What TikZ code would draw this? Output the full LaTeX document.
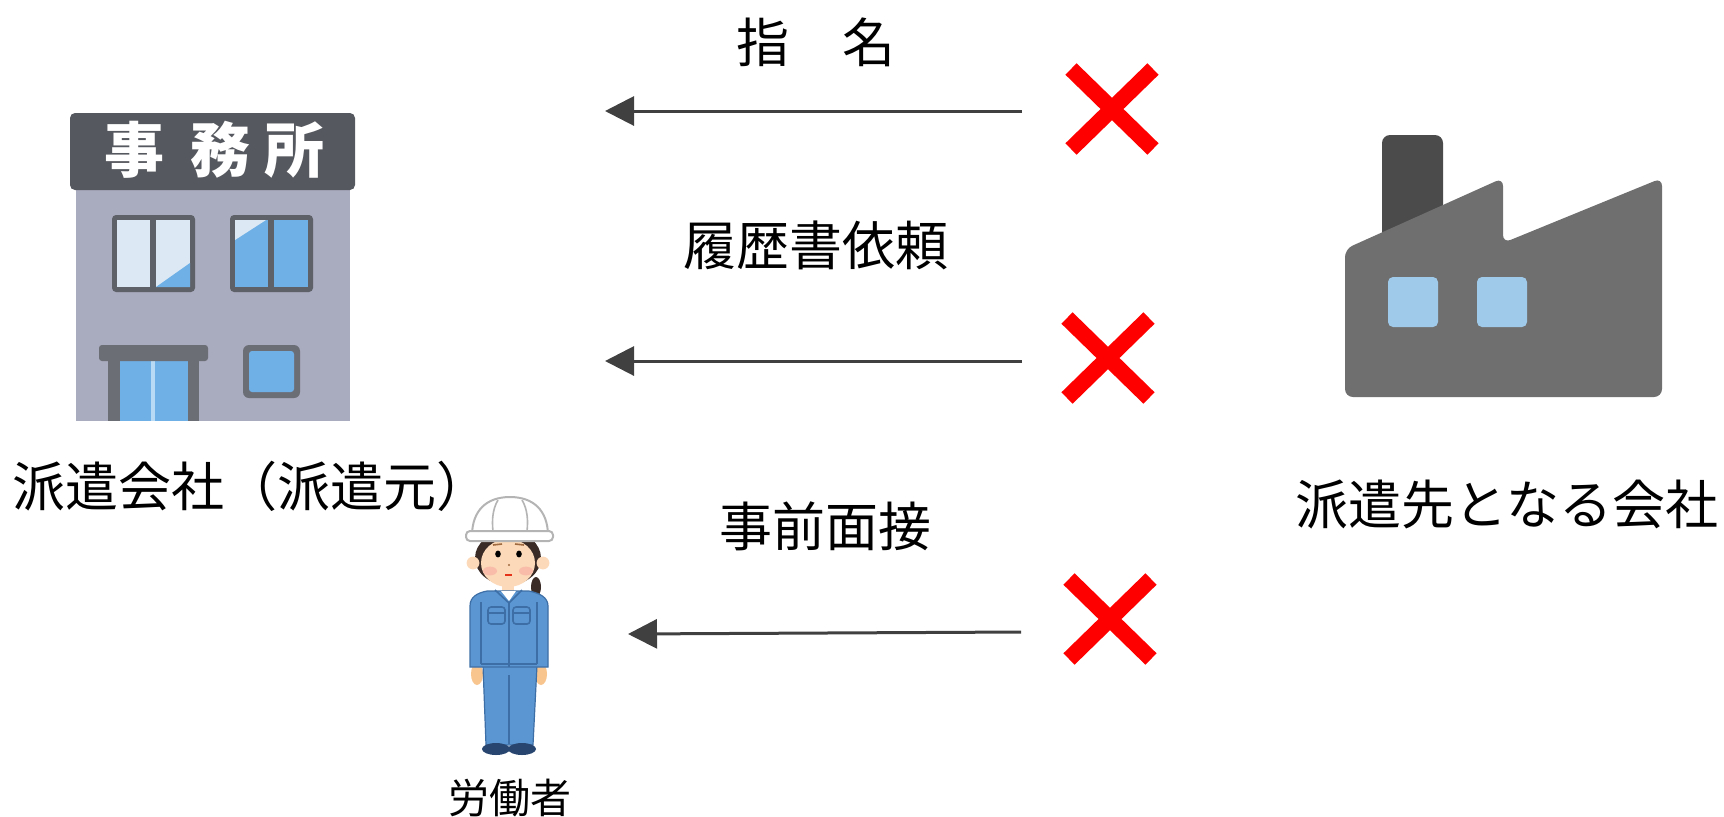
\documentclass[tikz,border=0pt]{standalone}
\usepackage{fontspec}
\setmainfont{Noto Sans CJK JP}
\usetikzlibrary{arrows.meta}

% palette
\definecolor{arrowgray}{HTML}{404040}
\definecolor{crossred}{HTML}{FF0000}
\definecolor{signgray}{HTML}{55585E}
\definecolor{wallgray}{HTML}{A9ABBE}
\definecolor{framegray}{HTML}{5F6168}
\definecolor{doorgray}{HTML}{6C6E76}
\definecolor{glassblue}{HTML}{6FB0E6}
\definecolor{glasslight}{HTML}{DCE9F5}
\definecolor{glassline}{HTML}{B9DAF5}
\definecolor{plantgray}{HTML}{6F6F6F}
\definecolor{chimneygray}{HTML}{4B4B4B}
\definecolor{plantglass}{HTML}{A0CAEA}
\definecolor{suitblue}{HTML}{5B96D2}
\definecolor{suitline}{HTML}{3D6FA6}
\definecolor{shoenavy}{HTML}{28456F}
\definecolor{skin}{HTML}{FCD9B8}
\definecolor{hand}{HTML}{F8C58E}
\definecolor{hair}{HTML}{3B2B26}
\definecolor{cheek}{HTML}{F7B0A4}
\definecolor{helmetline}{HTML}{B4B4B4}
\definecolor{brow}{HTML}{A06A40}

\begin{document}
\begin{tikzpicture}[x=0.5pt,y=-0.5pt,
  caption/.style={inner sep=0pt, text=black, font=\fontsize{26.5}{30}\selectfont},
  smallcaption/.style={inner sep=0pt, text=black, font=\fontsize{20.5}{24}\selectfont},
  signchar/.style={inner sep=0pt, text=white, font=\fontsize{30}{32}\selectfont\bfseries},
  flow/.style={draw=arrowgray, line width=1.5pt, -{Triangle[length=14.5pt,width=14.5pt]}},
  nogo/.style={draw=crossred, line width=8pt, line cap=butt},
]
\useasboundingbox (0,0) rectangle (1724,816);

% ---------- office building (dispatching company) ----------
\fill[wallgray] (76,188) rectangle (350,421);
\fill[signgray, rounded corners=2.5pt] (70,113) rectangle (355,190);
\node[signchar] (sign1) at (134,150) {事};
\node[signchar] (sign2) at (220,150) {務};
\node[signchar] (sign3) at (294,150) {所};
% upper windows
\fill[framegray, rounded corners=2pt] (112,215) rectangle (195,292);
\fill[glasslight] (117,220) rectangle (150,287);
\fill[glasslight] (156,220) rectangle (190,287);
\fill[glassblue] (156,287) -- (190,287) -- (190,263) -- cycle;
\fill[framegray, rounded corners=2pt] (230,215) rectangle (313,292);
\fill[glassblue] (235,220) rectangle (268,287);
\fill[glassblue] (274,220) rectangle (308,287);
\fill[glasslight] (235,220) -- (266,220) -- (235,240) -- cycle;
% entrance
\fill[doorgray] (108,358) rectangle (199,421);
\fill[glassblue] (120,361) rectangle (188,421);
\fill[glassline] (151,361) rectangle (155,421);
\fill[doorgray, rounded corners=1.5pt] (99,345) rectangle (208,361);
% small window
\fill[doorgray, rounded corners=3pt] (243,345) rectangle (300,398);
\fill[glassblue, rounded corners=1.5pt] (249,351) rectangle (294,392);

% ---------- factory (client company) ----------
\fill[chimneygray, rounded corners=4pt] (1382,135) rectangle (1443,260);
\fill[plantgray, rounded corners=4pt] (1345,397) -- (1345,249) -- (1503,178) -- (1503,243)
  -- (1662,178) -- (1662,397) -- cycle;
\fill[plantglass, rounded corners=2.5pt] (1388,277) rectangle (1438,327);
\fill[plantglass, rounded corners=2.5pt] (1477,277) rectangle (1527,327);

% ---------- worker ----------
% ponytail and hair
\fill[hair] (536,587) ellipse [x radius=2.5pt, y radius=5pt];
\fill[hair] (508,558) ellipse [x radius=16.5pt, y radius=13.5pt];
% ears
\fill[skin] (473,563) circle [radius=3.2pt];
\fill[skin] (543,563) circle [radius=3.2pt];
% neck and face
\fill[skin] (502,580) rectangle (514,594);
\fill[skin] (508,563) ellipse [x radius=13.5pt, y radius=12pt];
\fill[cheek, opacity=0.7] (490,571) ellipse [x radius=3.5pt, y radius=2.2pt];
\fill[cheek, opacity=0.7] (526,571) ellipse [x radius=3.5pt, y radius=2.2pt];
\fill[black] (498,554) ellipse [x radius=1.4pt, y radius=1.7pt];
\fill[black] (519,554) ellipse [x radius=1.4pt, y radius=1.7pt];
\draw[brow, line width=0.8pt] (493,545) -- (502,544);
\draw[brow, line width=0.8pt] (515,544) -- (524,545);
\fill[brow] (509,565) circle [radius=0.6pt];
\draw[red!60!brown, line width=0.7pt] (505,575) -- (512,575);
% helmet
\filldraw[fill=white, draw=helmetline, line width=1pt] (472,536) .. controls (472,510) and (487,497) .. (510,497)
  .. controls (533,497) and (548,510) .. (548,536) -- cycle;
\draw[helmetline, line width=0.8pt] (498,500) .. controls (492,510) and (492,522) .. (493,531);
\draw[helmetline, line width=0.8pt] (522,500) .. controls (528,510) and (528,522) .. (527,531);
\filldraw[fill=white, draw=helmetline, line width=1pt, rounded corners=2pt] (466,531) rectangle (553,541);
% hands
\fill[hand] (477,674) ellipse [x radius=3pt, y radius=5.5pt];
\fill[hand] (541,674) ellipse [x radius=3pt, y radius=5.5pt];
% trousers and shoes
\filldraw[fill=suitblue, draw=suitline, line width=0.6pt] (483,665) -- (537,665) -- (533,745) -- (486,745) -- cycle;
\draw[suitline, line width=0.8pt] (509,675) -- (509,744);
\fill[shoenavy] (496,749) ellipse [x radius=7pt, y radius=3pt];
\fill[shoenavy] (522,749) ellipse [x radius=7pt, y radius=3pt];
% jacket
\filldraw[fill=suitblue, draw=suitline, line width=0.6pt] (470,667) -- (470,606)
  .. controls (470,597) and (477,593) .. (487,591) -- (529,591)
  .. controls (539,593) and (548,597) .. (548,606) -- (548,667) -- cycle;
\fill[white] (501,591) -- (509,601) -- (516,591) -- cycle;
\draw[suitline, line width=0.8pt] (495,590) -- (509,603) -- (522,590);
\draw[suitline, line width=0.8pt] (509,603) -- (509,667);
\draw[suitline, line width=0.8pt] (481,602) -- (481,664);
\draw[suitline, line width=0.8pt] (537,602) -- (537,664);
\draw[suitline, line width=0.8pt] (481,664) -- (537,664);
\draw[suitline, line width=0.8pt, rounded corners=1.5pt] (488,607) rectangle (505,624);
\draw[suitline, line width=0.8pt, rounded corners=1.5pt] (513,607) rectangle (530,624);
\draw[suitline, line width=0.6pt] (488,613) -- (505,613);
\draw[suitline, line width=0.6pt] (513,613) -- (530,613);

% ---------- captions ----------
\node[caption] (lblShimei) at (816,42) {指　名};
\node[caption] (lblRireki) at (816,245) {履歴書依頼};
\node[caption] (lblMensetsu) at (825,526) {事前面接};
\node[caption, anchor=west] (lblMoto) at (12,486) {派遣会社（派遣元）};
\node[caption] (lblSaki) at (1507,504) {派遣先となる会社};
\node[smallcaption] (lblWorker) at (510,798) {労働者};

% ---------- arrows ----------
\coordinate (a1from) at (1022,111);
\coordinate (a1to) at (605,111);
\coordinate (a2from) at (1022,361);
\coordinate (a2to) at (605,361);
\coordinate (a3from) at (1021,632);
\coordinate (a3to) at (628,634);
\draw[flow] (a1from) -- (a1to);
\draw[flow] (a2from) -- (a2to);
\draw[flow] (a3from) -- (a3to);

% ---------- refusal marks ----------
\foreach \cx/\cy in {1112/109, 1108/358, 1110/619} {
  \draw[nogo] (\cx-41,\cy-40) -- (\cx+41,\cy+40);
  \draw[nogo] (\cx+41,\cy-40) -- (\cx-41,\cy+40);
}
\end{tikzpicture}
\end{document}
